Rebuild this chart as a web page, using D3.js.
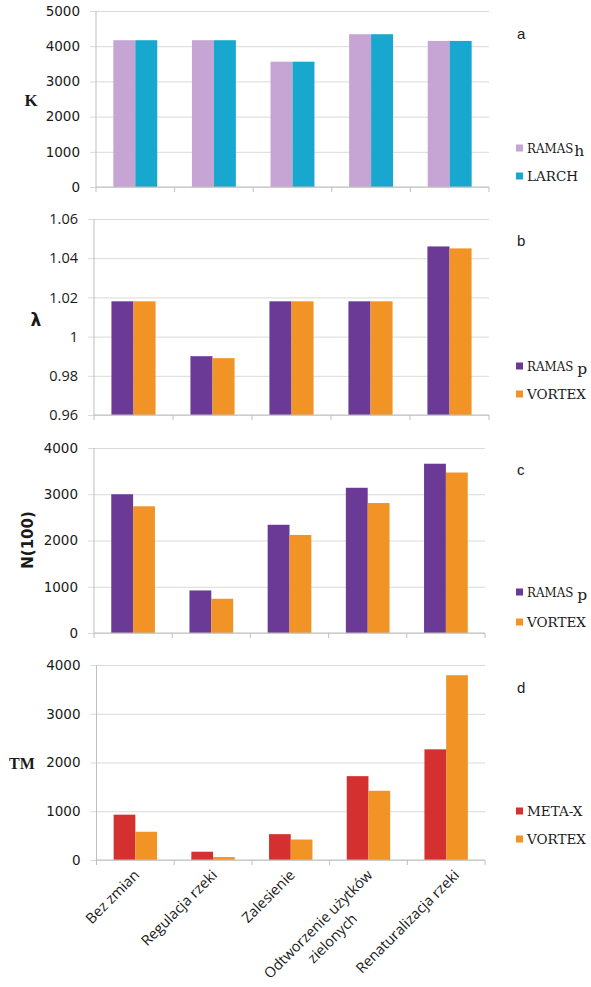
<!DOCTYPE html>
<html>
<head>
<meta charset="utf-8">
<script src="https://cdn.jsdelivr.net/npm/d3@7"></script>
<style>
  html, body { margin: 0; padding: 0; background: #fff; }
  svg { display: block; }
</style>
</head>
<body>
<svg id="chart" width="591" height="987"></svg>
<script>
// Scenario names along the shared x axis
const categories = ["Bez zmian", "Regulacja rzeki", "Zalesienie", "Odtworzenie użytków zielonych", "Renaturalizacja rzeki"];
const categoryLines = [["Bez zmian"], ["Regulacja rzeki"], ["Zalesienie"], ["Odtworzenie użytków", "zielonych"], ["Renaturalizacja rzeki"]];

// a: carrying capacity K
const kRamasH = [4170, 4170, 3560, 4340, 4150];
const kLarch  = [4170, 4170, 3560, 4340, 4150];
const kTicks  = [0, 1000, 2000, 3000, 4000, 5000];

// b: growth rate lambda
const lambdaRamasP = [1.018, 0.990, 1.018, 1.018, 1.046];
const lambdaVortex = [1.018, 0.989, 1.018, 1.018, 1.045];
const lambdaTicks  = [0.96, 0.98, 1.00, 1.02, 1.04, 1.06];

// c: population size after 100 years
const nRamasP = [3000, 920, 2340, 3140, 3660];
const nVortex = [2740, 740, 2120, 2810, 3470];
const nTicks  = [0, 1000, 2000, 3000, 4000];

// d: time to extinction TM
const tmMetaX  = [930, 170, 530, 1720, 2270];
const tmVortex = [580, 60, 420, 1420, 3790];
const tmTicks  = [0, 1000, 2000, 3000, 4000];

const svg = d3.select("#chart");

const panels = [
  {
    letter: "a", label: "K", labelFont: "bold 17px 'Liberation Serif', serif", labelPos: [31, 100], rotate: false,
    x: [96, 489], y: [187, 11], domain: [0, 5000], ticks: kTicks, fmt: d3.format("d"),
    tickFont: "13.5px 'DejaVu Sans', sans-serif",
    series: [
      { name: "RAMAS", sub: "h", subGap: 1, values: kRamasH, color: "#c6a4d4" },
      { name: "LARCH", values: kLarch, color: "#17a7cf" }
    ],
    legendY: [148, 176], letterY: 33
  },
  {
    letter: "b", label: "λ", labelFont: "bold 17px 'DejaVu Sans', sans-serif", labelPos: [36, 320], rotate: false,
    x: [94, 489], y: [415, 219], domain: [0.96, 1.06], ticks: lambdaTicks, fmt: d => String(+d.toFixed(2)),
    tickFont: "14.5px 'Open Sans', sans-serif",
    series: [
      { name: "RAMAS", sub: "p", subGap: 4, values: lambdaRamasP, color: "#6b3a96" },
      { name: "VORTEX", values: lambdaVortex, color: "#f29325" }
    ],
    legendY: [366, 394], letterY: 240
  },
  {
    letter: "c", label: "N(100)", labelFont: "bold 15px 'DejaVu Sans', sans-serif", labelPos: [28, 540], rotate: true,
    x: [94, 485], y: [633, 448], domain: [0, 4000], ticks: nTicks, fmt: d3.format("d"),
    tickFont: "13.5px 'DejaVu Sans', sans-serif",
    series: [
      { name: "RAMAS", sub: "p", subGap: 4, values: nRamasP, color: "#6b3a96" },
      { name: "VORTEX", values: nVortex, color: "#f29325" }
    ],
    legendY: [592, 622], letterY: 469
  },
  {
    letter: "d", label: "TM", labelFont: "bold 16px 'Liberation Serif', serif", labelPos: [22, 763], rotate: false,
    x: [96.5, 485], y: [860, 665], domain: [0, 4000], ticks: tmTicks, fmt: d3.format("d"),
    tickFont: "13.5px 'DejaVu Sans', sans-serif",
    series: [
      { name: "META-X", values: tmMetaX, color: "#d4302f" },
      { name: "VORTEX", values: tmVortex, color: "#f29325" }
    ],
    legendY: [811, 839], letterY: 687
  }
];

const gridColor = "#d9d9d9";
const axisColor = "#bfbfbf";
const textColor = "#1a1a1a";
const legendFont = "13.5px 'DejaVu Serif', serif";

panels.forEach((p) => {
  const g = svg.append("g");
  const xs = d3.scaleBand().domain(categories).range(p.x).paddingInner(0).paddingOuter(0);
  const ys = d3.scaleLinear().domain(p.domain).range(p.y);
  const names = p.series.map(s => s.name + (s.sub || ""));
  const inner = d3.scaleBand().domain(names).range([0, xs.bandwidth()]).paddingInner(0).paddingOuter(0.79);

  // horizontal gridlines with short outer ticks
  const yAxis = d3.axisLeft(ys).tickValues(p.ticks).tickFormat(p.fmt).tickSize(6).tickPadding(10);
  const ya = g.append("g").attr("transform", `translate(${p.x[0]},0)`).call(yAxis);
  ya.select(".domain").remove();
  ya.selectAll(".tick line").attr("stroke", gridColor).attr("stroke-width", 1);
  ya.selectAll(".tick").append("line")
    .attr("x1", 0).attr("x2", p.x[1] - p.x[0])
    .attr("stroke", gridColor).attr("stroke-width", 1);
  ya.selectAll(".tick text").style("font", p.tickFont).attr("fill", textColor);

  // vertical axis line
  g.append("line").attr("x1", p.x[0]).attr("x2", p.x[0]).attr("y1", p.y[0]).attr("y2", p.y[1])
    .attr("stroke", axisColor).attr("stroke-width", 1);

  // bars
  p.series.forEach((s, si) => {
    g.append("g").selectAll("rect").data(s.values).join("rect")
      .attr("x", (d, i) => xs(categories[i]) + inner(names[si]))
      .attr("width", inner.bandwidth())
      .attr("y", d => ys(d))
      .attr("height", d => ys(p.domain[0]) - ys(d))
      .attr("fill", s.color);
  });

  // category axis with ticks at the band boundaries
  const base = ys(p.domain[0]);
  g.append("line").attr("x1", p.x[0]).attr("x2", p.x[1]).attr("y1", base).attr("y2", base)
    .attr("stroke", axisColor).attr("stroke-width", 1);
  const bounds = d3.range(categories.length + 1).map(i => xs.range()[0] + i * xs.step());
  g.append("g").selectAll("line").data(bounds).join("line")
    .attr("x1", d => d).attr("x2", d => d).attr("y1", base).attr("y2", base + 5)
    .attr("stroke", axisColor).attr("stroke-width", 1);

  // axis title
  const lab = g.append("text").text(p.label).style("font", p.labelFont).attr("fill", textColor)
    .attr("text-anchor", "middle").attr("dominant-baseline", "central");
  if (p.rotate) lab.attr("transform", `translate(${p.labelPos[0]},${p.labelPos[1]}) rotate(-90)`);
  else lab.attr("x", p.labelPos[0]).attr("y", p.labelPos[1]);

  // panel letter
  g.append("text").text(p.letter).attr("x", 517).attr("y", p.letterY)
    .attr("dominant-baseline", "central")
    .style("font", "15px 'Liberation Sans', Arial, sans-serif").attr("fill", textColor);

  // legend: swatch, model name, and an optional lowered suffix letter
  p.series.forEach((s, si) => {
    const ly = p.legendY[si];
    g.append("rect").attr("x", 516).attr("y", ly - 3.5).attr("width", 7).attr("height", 7).attr("fill", s.color);
    const sx = s.name === "RAMAS" ? 0.88 : 1;
    const t = g.append("text").text(s.name)
      .attr("transform", `translate(527,${ly + 5}) scale(${sx},1)`)
      .style("font", legendFont).attr("fill", textColor);
    if (s.sub) {
      const w = t.node().getComputedTextLength() * sx;
      g.append("text").text(s.sub).attr("x", 527 + w + s.subGap).attr("y", ly + 8)
        .style("font", "15.5px 'DejaVu Serif', serif").attr("fill", textColor);
    }
  });
});

// rotated category labels under the last panel; the last one sits a little further right
const labelNudge = [0, 0, 0, 0, 9];
const last = panels[panels.length - 1];
const xl = d3.scaleBand().domain(categories).range(last.x).paddingInner(0).paddingOuter(0);
const labelFont = "14.5px 'Open Sans', sans-serif";
categoryLines.forEach((lines, i) => {
  const cx = xl(categories[i]) + xl.bandwidth() / 2 + labelNudge[i];
  const lg = svg.append("g").attr("transform", `translate(${cx + 5},${last.y[0] + 16}) rotate(-45)`);
  const first = lg.append("text").text(lines[0]).attr("x", 0).attr("y", 0)
    .attr("text-anchor", "end").style("font", labelFont).attr("fill", textColor);
  if (lines.length > 1) {
    const w = first.node().getComputedTextLength();
    lines.slice(1).forEach((ln, j) => {
      lg.append("text").text(ln).attr("x", -w / 2).attr("y", 20 * (j + 1))
        .attr("text-anchor", "middle").style("font", labelFont).attr("fill", textColor);
    });
  }
});
</script>
</body>
</html>
